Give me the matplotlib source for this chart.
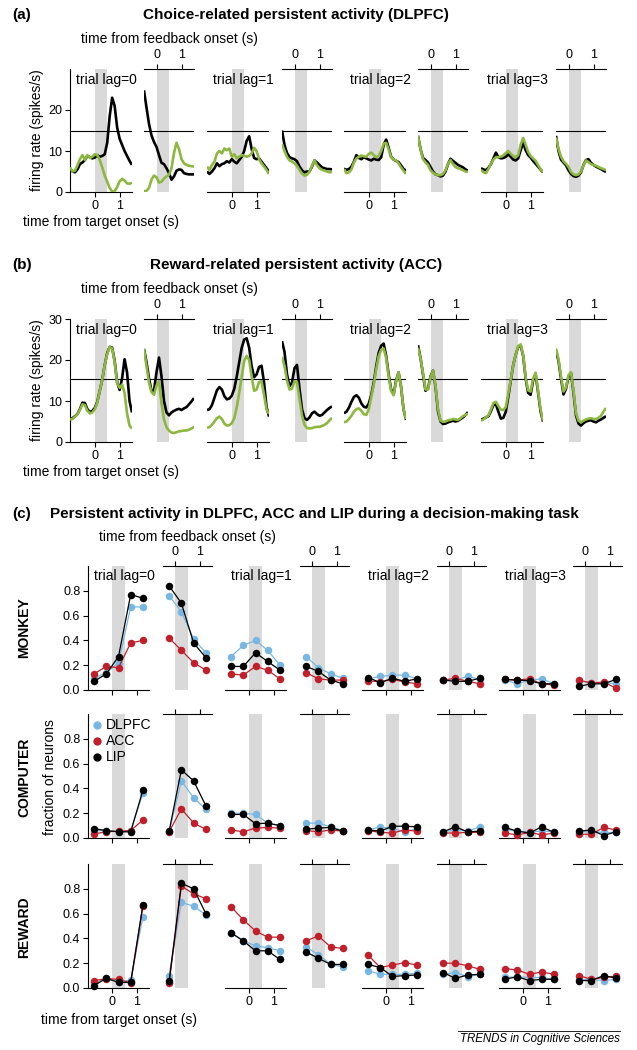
import numpy as np
import matplotlib.pyplot as plt
from matplotlib.lines import Line2D

plt.rcParams['font.family'] = ['Liberation Sans', 'DejaVu Sans']

W, H = 637, 1050
GREY = "#d9d9d9"
GREEN = "#8cb83f"
BLUE = "#79b7e3"
RED = "#c1202b"

############################################
# DATA  (a) and (b): firing rate traces
############################################

t_tgt = np.round(np.arange(-1.0, 1.501, 0.1), 1)   # time from target onset (s)
t_fb = np.round(np.arange(-0.5, 1.501, 0.1), 1)    # time from feedback onset (s)
lag_names = ["trial lag=0", "trial lag=1", "trial lag=2", "trial lag=3"]

a_tgt_black = [
    [5.6, 5.0, 4.8, 5.5, 6.8, 7.2, 7.8, 8.8, 8.5, 8.2, 8.4, 9.0, 8.6, 8.8, 9.2, 12.0, 18.5, 23.0, 21.0, 15.8, 13.0, 11.5, 10.0, 8.8, 7.6, 6.6],
    [5.0, 4.4, 5.0, 5.8, 7.0, 6.3, 6.8, 7.0, 7.5, 7.2, 8.0, 7.4, 7.0, 7.8, 8.6, 10.0, 12.5, 13.6, 10.5, 8.3, 8.0, 8.2, 7.4, 6.6, 5.8, 5.0],
    [5.7, 5.4, 5.6, 6.2, 7.4, 9.0, 8.3, 8.0, 8.5, 8.2, 7.9, 7.7, 8.1, 7.9, 7.8, 8.5, 11.5, 12.8, 10.8, 8.6, 7.9, 7.6, 7.3, 6.5, 5.6, 5.2],
    [5.8, 5.5, 5.3, 5.9, 6.8, 8.2, 9.6, 8.5, 8.2, 8.3, 8.6, 9.2, 8.6, 7.9, 7.7, 8.2, 10.2, 12.0, 10.2, 9.0, 8.4, 7.6, 6.9, 6.2, 5.5, 4.8],
]
a_tgt_green = [
    [6.0, 5.0, 5.2, 6.5, 8.0, 9.0, 7.8, 9.0, 8.3, 8.6, 9.2, 9.0, 7.8, 6.0, 4.0, 2.5, 1.0, 0.1, 0.2, 1.2, 2.6, 3.2, 2.8, 2.1, 2.0, 2.3],
    [6.2, 5.4, 6.6, 7.4, 9.4, 10.0, 9.4, 10.6, 10.2, 10.6, 8.6, 9.2, 8.2, 8.6, 9.0, 8.8, 8.6, 8.8, 9.4, 10.8, 10.0, 8.0, 7.0, 6.2, 5.4, 4.4],
    [5.6, 4.6, 4.8, 5.5, 7.2, 8.2, 8.6, 8.9, 8.7, 8.6, 9.3, 9.6, 9.0, 8.5, 8.8, 10.0, 11.8, 12.0, 10.4, 8.5, 7.9, 7.7, 7.0, 6.0, 5.2, 4.4],
    [5.4, 4.8, 4.6, 5.6, 6.9, 7.9, 8.5, 8.5, 8.6, 8.9, 9.5, 10.0, 9.3, 8.7, 8.5, 9.0, 11.5, 13.2, 11.5, 9.8, 8.8, 8.2, 7.6, 6.6, 5.6, 4.8],
]
a_fb_black = [
    [24.8, 20.6, 16.6, 13.8, 12.2, 11.0, 9.0, 7.1, 6.8, 5.8, 4.6, 3.0, 3.8, 5.2, 5.5, 5.4, 4.6, 4.4, 4.3, 4.3, 4.3],
    [15.0, 11.5, 9.5, 8.5, 8.2, 8.0, 7.5, 6.2, 5.3, 4.8, 5.0, 5.0, 6.2, 7.7, 7.2, 6.6, 6.0, 5.8, 5.6, 5.6, 5.5],
    [13.7, 10.5, 8.3, 7.8, 7.2, 6.1, 5.0, 4.3, 4.1, 3.8, 4.0, 5.0, 6.8, 8.1, 7.6, 7.1, 6.6, 6.3, 6.0, 5.5, 5.2],
    [13.7, 10.0, 7.9, 7.2, 6.5, 5.3, 4.4, 3.9, 3.7, 4.0, 4.8, 6.6, 7.8, 8.0, 7.1, 6.6, 6.2, 5.9, 5.6, 5.2, 4.9],
]
a_fb_green = [
    [0.2, 0.3, 1.0, 3.0, 4.0, 3.6, 2.3, 2.5, 3.3, 3.8, 4.2, 5.8, 9.5, 12.0, 10.5, 8.0, 7.0, 6.6, 6.4, 6.3, 6.2],
    [11.7, 10.0, 8.6, 7.7, 7.4, 7.0, 6.4, 5.4, 4.5, 4.0, 4.2, 5.0, 6.4, 7.7, 6.5, 5.8, 5.4, 5.2, 5.0, 4.8, 4.9],
    [13.7, 10.5, 8.0, 7.2, 6.6, 5.3, 4.7, 4.3, 4.1, 4.1, 4.4, 5.3, 6.8, 7.8, 6.8, 6.1, 5.8, 5.6, 5.3, 5.0, 4.9],
    [13.3, 10.5, 8.6, 7.5, 6.9, 6.1, 4.9, 4.3, 4.1, 4.3, 5.0, 6.5, 7.7, 7.3, 6.8, 6.6, 6.4, 6.1, 5.8, 5.6, 5.3],
]
a_threshold = 15.0

b_tgt_black = [
    [5.5, 5.8, 6.3, 6.8, 8.0, 9.6, 9.5, 8.0, 7.3, 7.6, 8.3, 9.8, 12.5, 15.2, 18.8, 21.7, 23.2, 23.0, 19.8, 14.6, 12.7, 15.5, 20.2, 17.0, 10.0, 7.2],
    [7.8, 8.0, 9.0, 10.8, 12.6, 13.4, 12.8, 11.2, 10.4, 10.6, 11.3, 13.0, 16.0, 19.5, 23.0, 25.0, 25.3, 23.0, 18.5, 15.8, 16.5, 18.3, 18.6, 14.5, 8.6, 6.2],
    [7.0, 7.4, 8.4, 9.8, 11.0, 11.4, 10.8, 9.4, 8.6, 8.4, 9.4, 11.5, 14.5, 18.5, 21.8, 23.5, 24.0, 21.0, 16.5, 12.8, 11.6, 15.0, 17.0, 13.5, 8.0, 5.4],
    [5.4, 5.7, 6.0, 6.3, 7.5, 9.0, 9.2, 7.4, 5.7, 5.9, 7.4, 11.0, 15.0, 18.8, 21.3, 23.2, 23.6, 21.0, 15.5, 12.0, 11.5, 15.0, 16.6, 12.2, 7.5, 5.0],
]
b_tgt_green = [
    [5.5, 5.6, 6.2, 6.8, 7.8, 9.2, 9.0, 7.6, 7.0, 7.2, 8.0, 9.6, 12.5, 15.2, 18.8, 21.5, 23.2, 22.8, 19.5, 14.4, 13.2, 14.0, 12.0, 7.0, 4.0, 3.3],
    [3.5, 3.6, 4.2, 5.0, 5.8, 6.2, 5.6, 4.5, 4.0, 4.1, 4.6, 5.8, 8.5, 12.0, 16.0, 19.8, 21.0, 20.0, 16.0, 12.5, 12.8, 14.6, 14.8, 11.5, 8.0, 6.8],
    [4.8, 5.0, 5.6, 6.4, 7.4, 8.0, 8.2, 7.6, 6.8, 6.6, 8.0, 11.0, 14.0, 17.8, 21.0, 22.5, 22.8, 20.5, 16.0, 12.5, 11.4, 14.8, 17.0, 13.5, 8.0, 5.6],
    [5.2, 5.5, 6.0, 6.5, 7.9, 9.5, 9.8, 8.8, 7.9, 7.8, 8.5, 11.8, 15.2, 18.8, 21.3, 23.4, 23.8, 21.2, 15.8, 12.6, 12.3, 15.4, 16.9, 12.6, 8.0, 5.2],
]
b_fb_black = [
    [22.7, 19.5, 15.5, 12.5, 12.5, 17.0, 20.6, 16.0, 10.0, 7.2, 6.5, 7.2, 7.6, 7.9, 8.1, 7.8, 8.2, 8.5, 9.2, 9.9, 10.7],
    [24.6, 22.0, 16.5, 13.6, 14.5, 18.0, 18.8, 13.0, 8.0, 5.8, 5.4, 6.0, 7.0, 7.4, 6.8, 6.4, 6.6, 7.2, 7.8, 8.3, 8.7],
    [23.6, 20.5, 16.5, 12.5, 13.0, 16.0, 17.4, 13.5, 7.5, 5.0, 4.4, 4.5, 4.8, 5.0, 5.2, 5.0, 5.2, 5.6, 6.0, 6.6, 7.3],
    [22.3, 19.8, 15.5, 11.6, 13.0, 16.0, 16.8, 12.0, 6.5, 4.5, 4.0, 4.6, 5.0, 5.2, 5.3, 5.0, 4.8, 5.2, 5.5, 5.9, 6.3],
]
b_fb_green = [
    [22.7, 18.5, 14.5, 12.2, 11.5, 13.8, 14.8, 9.5, 5.5, 3.6, 2.8, 2.3, 2.2, 2.4, 2.6, 2.7, 2.8, 2.8, 3.0, 3.3, 3.7],
    [20.8, 18.5, 15.0, 12.8, 13.0, 14.8, 14.6, 10.5, 6.5, 4.2, 3.4, 3.3, 3.4, 3.6, 3.7, 3.7, 3.9, 4.2, 4.6, 5.3, 5.9],
    [23.0, 20.5, 16.8, 12.8, 12.8, 15.8, 17.4, 13.8, 8.0, 5.2, 4.9, 5.0, 5.3, 5.4, 5.6, 5.5, 5.4, 5.8, 6.3, 6.6, 7.0],
    [22.8, 20.2, 16.0, 12.3, 13.3, 16.3, 17.0, 12.5, 7.0, 5.2, 4.8, 5.2, 5.5, 5.7, 5.8, 5.6, 5.6, 5.9, 6.4, 7.4, 8.3],
]
b_threshold = 15.3

############################################
# DATA  (c): fraction of neurons
############################################

c_t_tgt = [-0.75, -0.25, 0.25, 0.75, 1.25]
c_t_fb = [-0.25, 0.25, 0.75, 1.25]
row_names = ["MONKEY", "COMPUTER", "REWARD"]
area_names = ["DLPFC", "ACC", "LIP"]

monkey_tgt = {
    "DLPFC": [[0.095, 0.14, 0.22, 0.67, 0.67], [0.27, 0.36, 0.40, 0.32, 0.20], [0.09, 0.11, 0.12, 0.12, 0.09], [0.08, 0.05, 0.08, 0.09, 0.05]],
    "ACC":   [[0.13, 0.19, 0.18, 0.38, 0.40], [0.13, 0.12, 0.19, 0.16, 0.09], [0.075, 0.065, 0.085, 0.065, 0.05], [0.085, 0.08, 0.09, 0.05, 0.04]],
    "LIP":   [[0.07, 0.13, 0.27, 0.77, 0.74], [0.19, 0.19, 0.30, 0.23, 0.16], [0.10, 0.06, 0.095, 0.07, 0.09], [0.085, 0.08, 0.075, 0.05, 0.05]],
}
monkey_fb = {
    "DLPFC": [[0.76, 0.63, 0.41, 0.30], [0.27, 0.18, 0.13, 0.095], [0.08, 0.08, 0.11, 0.085], [0.07, 0.06, 0.06, 0.05]],
    "ACC":   [[0.42, 0.32, 0.22, 0.16], [0.14, 0.09, 0.08, 0.08], [0.08, 0.095, 0.07, 0.05], [0.08, 0.055, 0.065, 0.015]],
    "LIP":   [[0.84, 0.70, 0.38, 0.26], [0.19, 0.15, 0.08, 0.05], [0.08, 0.07, 0.07, 0.095], [0.03, 0.05, 0.05, 0.085]],
}
computer_tgt = {
    "DLPFC": [[0.06, 0.06, 0.05, 0.06, 0.36], [0.20, 0.20, 0.19, 0.12, 0.10], [0.065, 0.09, 0.075, 0.05, 0.075], [0.07, 0.055, 0.05, 0.055, 0.05]],
    "ACC":   [[0.033, 0.05, 0.055, 0.06, 0.145], [0.065, 0.05, 0.08, 0.085, 0.08], [0.06, 0.045, 0.04, 0.065, 0.055], [0.04, 0.025, 0.045, 0.025, 0.04]],
    "LIP":   [[0.075, 0.06, 0.05, 0.05, 0.385], [0.19, 0.19, 0.115, 0.12, 0.10], [0.065, 0.055, 0.095, 0.095, 0.09], [0.085, 0.055, 0.04, 0.09, 0.045]],
}
computer_fb = {
    "DLPFC": [[0.05, 0.46, 0.325, 0.23], [0.12, 0.12, 0.09, 0.06], [0.05, 0.065, 0.055, 0.09], [0.05, 0.05, 0.045, 0.045]],
    "ACC":   [[0.05, 0.235, 0.12, 0.07], [0.06, 0.05, 0.065, 0.055], [0.04, 0.04, 0.045, 0.045], [0.03, 0.03, 0.085, 0.065]],
    "LIP":   [[0.055, 0.55, 0.46, 0.26], [0.07, 0.08, 0.085, 0.055], [0.05, 0.09, 0.05, 0.055], [0.055, 0.065, 0.02, 0.05]],
}
reward_tgt = {
    "DLPFC": [[0.04, 0.078, 0.05, 0.065, 0.575], [0.445, 0.38, 0.34, 0.325, 0.30], [0.14, 0.11, 0.11, 0.11, 0.12], [0.085, 0.09, 0.085, 0.085, 0.07]],
    "ACC":   [[0.06, 0.075, 0.07, 0.04, 0.66], [0.655, 0.55, 0.46, 0.41, 0.41], [0.265, 0.165, 0.185, 0.205, 0.185], [0.157, 0.145, 0.11, 0.13, 0.11]],
    "LIP":   [[0.02, 0.078, 0.045, 0.045, 0.67], [0.445, 0.38, 0.30, 0.30, 0.23], [0.19, 0.165, 0.093, 0.10, 0.105], [0.072, 0.09, 0.06, 0.07, 0.07]],
}
reward_fb = {
    "DLPFC": [[0.10, 0.69, 0.66, 0.59], [0.33, 0.27, 0.19, 0.17], [0.11, 0.125, 0.09, 0.11], [0.07, 0.07, 0.06, 0.07]],
    "ACC":   [[0.04, 0.82, 0.76, 0.72], [0.38, 0.42, 0.33, 0.32], [0.20, 0.20, 0.18, 0.15], [0.10, 0.07, 0.085, 0.095]],
    "LIP":   [[0.055, 0.845, 0.80, 0.60], [0.29, 0.24, 0.19, 0.19], [0.125, 0.078, 0.105, 0.11], [0.06, 0.06, 0.10, 0.08]],
}
area_colors = {"DLPFC": BLUE, "ACC": RED, "LIP": "black"}

############################################
# LAYOUT (pixels)
############################################

fig = plt.figure(figsize=(W / 100, H / 100), dpi=100)

TICK_FS = 9
LABEL_FS = 10
TITLE_FS = 11


def add_ax(left, top, width, height):
    return fig.add_axes([left / W, 1 - (top + height) / H, width / W, height / H])


def ftext(x, y, s, **kw):
    fig.text(x / W, 1 - y / H, s, **kw)


def style_target(ax, ylim, left_spine, xlabels):
    ax.set_xlim(-1.0, 1.5)
    ax.set_ylim(*ylim)
    ax.patch.set_alpha(0)
    for s in ["top", "right"]:
        ax.spines[s].set_visible(False)
    ax.spines["left"].set_visible(left_spine)
    ax.set_xticks([0, 1])
    if not xlabels:
        ax.set_xticklabels([])
    if not left_spine:
        ax.set_yticks([])
    ax.tick_params(length=3.5, width=0.8, labelsize=TICK_FS, pad=2)
    ax.axvspan(0, 0.5, color=GREY, lw=0, zorder=0)


def style_fb(ax, ylim, xlabels):
    ax.set_xlim(-0.5, 1.5)
    ax.set_ylim(*ylim)
    ax.patch.set_alpha(0)
    for s in ["bottom", "left", "right"]:
        ax.spines[s].set_visible(False)
    ax.xaxis.set_ticks_position("top")
    ax.set_xticks([0, 1])
    if not xlabels:
        ax.set_xticklabels([])
    ax.set_yticks([])
    ax.tick_params(length=3.5, width=0.8, labelsize=TICK_FS, pad=2)
    ax.axvspan(0, 0.5, color=GREY, lw=0, zorder=0)


ab_tgt_left = [70, 207, 344, 481]
ab_fb_left = [144, 282, 418, 556]
c_tgt_left = [88, 225, 362, 499]
c_fb_left = [163, 300, 437, 573]

############################################
# PANELS (a) and (b)
############################################

panels_ab = [
    ("(a)", "Choice-related persistent activity (DLPFC)", 69, 15,
     a_tgt_black, a_tgt_green, a_fb_black, a_fb_green, a_threshold, [0, 10, 20]),
    ("(b)", "Reward-related persistent activity (ACC)", 319, 265,
     b_tgt_black, b_tgt_green, b_fb_black, b_fb_green, b_threshold, [0, 10, 20, 30]),
]

for letter, title, top, ty, tb, tg, fbb, fbg, thr, yt in panels_ab:
    height = 123
    ftext(12, ty, letter, fontsize=TITLE_FS, fontweight="bold", va="center")
    ftext(296, ty, title, fontsize=TITLE_FS, fontweight="bold", ha="center", va="center")
    ftext(169, ty + 24, "time from feedback onset (s)", fontsize=LABEL_FS, ha="center", va="center")
    ftext(101, top + height + 30, "time from target onset (s)", fontsize=LABEL_FS, ha="center", va="center")
    ftext(37, top + height / 2, "firing rate (spikes/s)", fontsize=LABEL_FS, rotation=90, ha="center", va="center")
    for i in range(4):
        ax = add_ax(ab_tgt_left[i], top, 62, height)
        style_target(ax, (0, 30), i == 0, True)
        if i == 0:
            ax.set_yticks(yt)
        ax.axhline(thr, color="black", lw=0.8, zorder=1)
        ax.plot(t_tgt, tb[i], color="black", lw=1.9, zorder=2, solid_capstyle="butt")
        ax.plot(t_tgt, tg[i], color=GREEN, lw=1.9, zorder=3, solid_capstyle="butt")
        ftext(ab_tgt_left[i] + 6, top + 11, lag_names[i], fontsize=LABEL_FS, va="center")

        ax = add_ax(ab_fb_left[i], top, 50, height)
        style_fb(ax, (0, 30), True)
        ax.axhline(thr, color="black", lw=0.8, zorder=1)
        ax.plot(t_fb, fbb[i], color="black", lw=1.9, zorder=2, solid_capstyle="butt")
        ax.plot(t_fb, fbg[i], color=GREEN, lw=1.9, zorder=3, solid_capstyle="butt")

############################################
# PANEL (c)
############################################

ftext(12, 514, "(c)", fontsize=TITLE_FS, fontweight="bold", va="center")
ftext(50, 514, "Persistent activity in DLPFC, ACC and LIP during a decision-making task",
      fontsize=TITLE_FS, fontweight="bold", ha="left", va="center")
ftext(187, 537, "time from feedback onset (s)", fontsize=LABEL_FS, ha="center", va="center")
ftext(119, 1020, "time from target onset (s)", fontsize=LABEL_FS, ha="center", va="center")

rows_c = [(monkey_tgt, monkey_fb, 566, 628), (computer_tgt, computer_fb, 714, 777), (reward_tgt, reward_fb, 864, 927)]

for r, (dt, dfb, top, ly) in enumerate(rows_c):
    height = 124
    ftext(24, ly, row_names[r], fontsize=LABEL_FS, fontweight="bold", rotation=90, ha="center", va="center")
    for i in range(4):
        ax = add_ax(c_tgt_left[i], top, 61, height)
        style_target(ax, (0, 1.0), i == 0, r == 2)
        if i == 0:
            ax.set_yticks([0, 0.2, 0.4, 0.6, 0.8])
            ax.set_yticklabels(["0.0", "0.2", "0.4", "0.6", "0.8"])
        for a in area_names:
            ax.plot(c_t_tgt, dt[a][i], color=area_colors[a], lw=0.9, marker="o", ms=5.4,
                    mec="none", zorder=3, clip_on=False)
        if r == 0:
            ftext(c_tgt_left[i] + 6, top + 10, lag_names[i], fontsize=LABEL_FS, va="center")

        ax = add_ax(c_fb_left[i], top, 49, height)
        style_fb(ax, (0, 1.0), r == 0)
        for a in area_names:
            ax.plot(c_t_fb, dfb[a][i], color=area_colors[a], lw=0.9, marker="o", ms=5.4,
                    mec="none", zorder=3, clip_on=False)

ftext(50, 777, "fraction of neurons", fontsize=LABEL_FS, rotation=90, ha="center", va="center")

# legend in the COMPUTER row
for k, a in enumerate(area_names):
    y = 725 + 16 * k
    fig.add_artist(Line2D([97 / W], [1 - y / H], marker="o", ms=6, color=area_colors[a], mec="none"))
    ftext(106, y, a, fontsize=LABEL_FS, va="center")

# footer
fig.add_artist(Line2D([458 / W, 620 / W], [1 - 1031 / H, 1 - 1031 / H], color="black", lw=0.6))
ftext(620, 1039, "TRENDS in Cognitive Sciences", fontsize=8.3, style="italic", ha="right", va="center")

fig.savefig("out.png", dpi=100)
